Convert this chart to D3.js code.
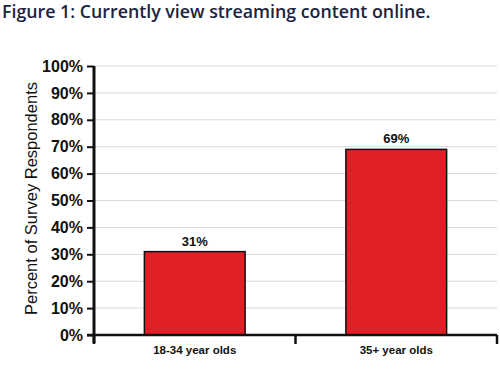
<!DOCTYPE html>
<html><head><meta charset="utf-8">
<script src="https://cdn.jsdelivr.net/npm/d3@7"></script>
<style>body{margin:0;background:#fff;} svg{display:block;}</style>
</head><body>
<script>
const categories = ["18-34 year olds", "35+ year olds"];
const values = [31, 69];
const yTicks = [0,10,20,30,40,50,60,70,80,90,100];
const title = "Figure 1: Currently view streaming content online.";
const yTitle = "Percent of Survey Respondents";

(function(){
const W = 500, H = 381;
const svg = d3.select("body").append("svg").attr("width", W).attr("height", H);
const pL = 94, pR = 497, pT = 66, pB = 335;

svg.append("text").attr("x", 2).attr("y", 18).text(title)
  .attr("font-family", "Open Sans, sans-serif").attr("font-weight", 600)
  .attr("font-size", 17.8).attr("fill", "#1b2440");

const x = d3.scaleBand().domain(categories).range([pL, pR]).paddingInner(0.5).paddingOuter(0.25);
const y = d3.scaleLinear().domain([0, 100]).range([pB, pT]);

svg.append("g").selectAll("line").data(yTicks.filter(d => d > 0)).join("line")
  .attr("x1", pL).attr("x2", pR).attr("y1", d => y(d)).attr("y2", d => y(d))
  .attr("stroke", "#d9d9d9").attr("stroke-width", 1);

svg.append("g").selectAll("rect").data(values).join("rect")
  .attr("x", (d, i) => x(categories[i])).attr("width", x.bandwidth())
  .attr("y", d => y(d)).attr("height", d => y(0) - y(d))
  .attr("fill", "#e01f27").attr("stroke", "#111").attr("stroke-width", 1.5);

svg.append("g").selectAll("text").data(values).join("text")
  .attr("x", (d, i) => x(categories[i]) + x.bandwidth() / 2).attr("y", d => y(d) - 6)
  .attr("text-anchor", "middle").text(d => d + "%")
  .attr("font-family", "Liberation Sans, Arial, sans-serif").attr("font-weight", "bold")
  .attr("font-size", 13).attr("fill", "#111");

const yAxis = d3.axisLeft(y).tickValues(yTicks).tickFormat(d => d + "%").tickSize(7).tickPadding(4);
const gy = svg.append("g").attr("transform", `translate(${pL},0)`).call(yAxis);
gy.select(".domain").attr("stroke", "#111").attr("stroke-width", 3).attr("d", `M0,${pT}V${pB + 8}`);
gy.selectAll(".tick line").attr("stroke", "#111").attr("stroke-width", 2);
gy.selectAll(".tick text").attr("font-family", "Liberation Sans, Arial, sans-serif")
  .attr("font-weight", "bold").attr("font-size", 16).attr("fill", "#111");

const xl = d3.scaleLinear().domain([0, categories.length]).range([pL, pR]);
const gx = svg.append("g").attr("transform", `translate(0,${pB})`);
gx.append("line").attr("x1", pL - 7).attr("x2", pR).attr("y1", 0).attr("y2", 0)
  .attr("stroke", "#111").attr("stroke-width", 2.5);
gx.selectAll(".xt").data(d3.range(categories.length + 1)).join("line").attr("class", "xt")
  .attr("x1", d => xl(d)).attr("x2", d => xl(d)).attr("y1", 0).attr("y2", 9)
  .attr("stroke", "#111").attr("stroke-width", 2.5);
gx.selectAll("text").data(categories).join("text")
  .attr("x", d => x(d) + x.bandwidth() / 2).attr("y", 19)
  .attr("text-anchor", "middle").text(d => d)
  .attr("font-family", "Liberation Sans, Arial, sans-serif").attr("font-weight", "bold")
  .attr("font-size", 11.5).attr("fill", "#111");

svg.append("text").attr("transform", `translate(37,${(pT + pB) / 2 - 2}) rotate(-90)`)
  .attr("text-anchor", "middle").text(yTitle)
  .attr("font-family", "Liberation Sans, Arial, sans-serif")
  .attr("font-size", 16.5).attr("fill", "#111");
})();
</script>
</body></html>
